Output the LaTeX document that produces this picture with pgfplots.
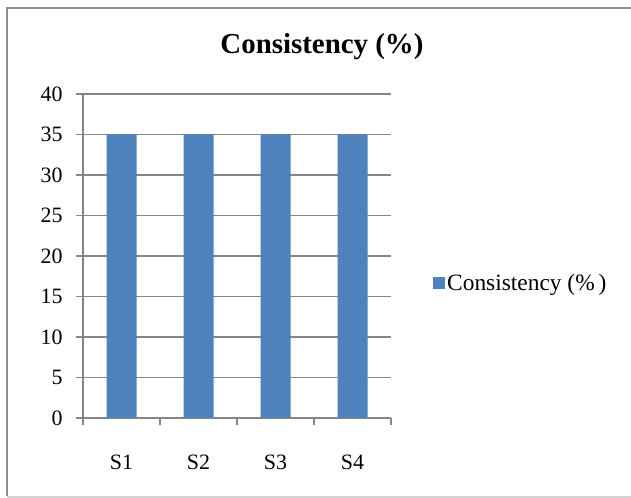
\documentclass[border=0pt]{standalone}
\usepackage{pgfplots}
\pgfplotsset{compat=1.18}
\usepackage{fontspec}
\setmainfont{Liberation Serif}
\definecolor{barblue}{HTML}{4F81BD}
\definecolor{axisgray}{HTML}{868686}
\definecolor{framegray}{HTML}{8C8C8C}
\definecolor{lightframe}{HTML}{D4D4D4}
\begin{document}
\begin{tikzpicture}[x=1bp,y=1bp]
\useasboundingbox (0,0) rectangle (631,498);
% chart frame
\draw[framegray,line width=2bp] (7,2) -- (7,490) -- (631,490);
\draw[lightframe,line width=1.2bp] (7,1) -- (631,1);
% title
\node[font=\fontsize{29}{32}\selectfont\bfseries] at (322,451) {Consistency (\%)};
\begin{axis}[
  at={(83bp,80bp)}, anchor=south west,
  scale only axis, width=308bp, height=324bp,
  xmin=0.5, xmax=4.5, ymin=0, ymax=40,
  ytick={0,5,...,40},
  xtick={1,2,3,4},
  xticklabels={S1,S2,S3,S4},
  minor xtick={0.5,1.5,...,4.5},
  axis x line*=bottom, axis y line*=left,
  axis line style={axisgray,line width=1.2bp,-},
  tick align=outside,
  major tick length=7bp,
  minor tick length=7bp,
  x tick style={draw=none},
  minor x tick style={draw=axisgray,line width=1.2bp},
  y tick style={axisgray,line width=1.2bp},
  ymajorgrids, grid style={axisgray,line width=1.2bp},
  tick label style={font=\fontsize{22}{22}\selectfont},
  /pgf/number format/assume math mode=true,
  yticklabel style={xshift=-10bp},
  xticklabel style={yshift=-26bp},
  legend style={at={(axis description cs:1,0.5)}, anchor=west, xshift=42bp,
    yshift=-27bp, draw=none, fill=none, font=\fontsize{23.5}{24}\selectfont,
    inner sep=0pt, legend cell align=left,
    nodes={inner xsep=2bp}},
  ybar, bar width=30bp,
]
\addplot[fill=barblue, draw=none,
  legend image code/.code={\fill[barblue] (0bp,-6bp) rectangle (12bp,6bp);}]
  coordinates {(1,35) (2,35) (3,35) (4,35)};
\addlegendentry{Consistency (\%\,)}
\end{axis}
\end{tikzpicture}
\end{document}
